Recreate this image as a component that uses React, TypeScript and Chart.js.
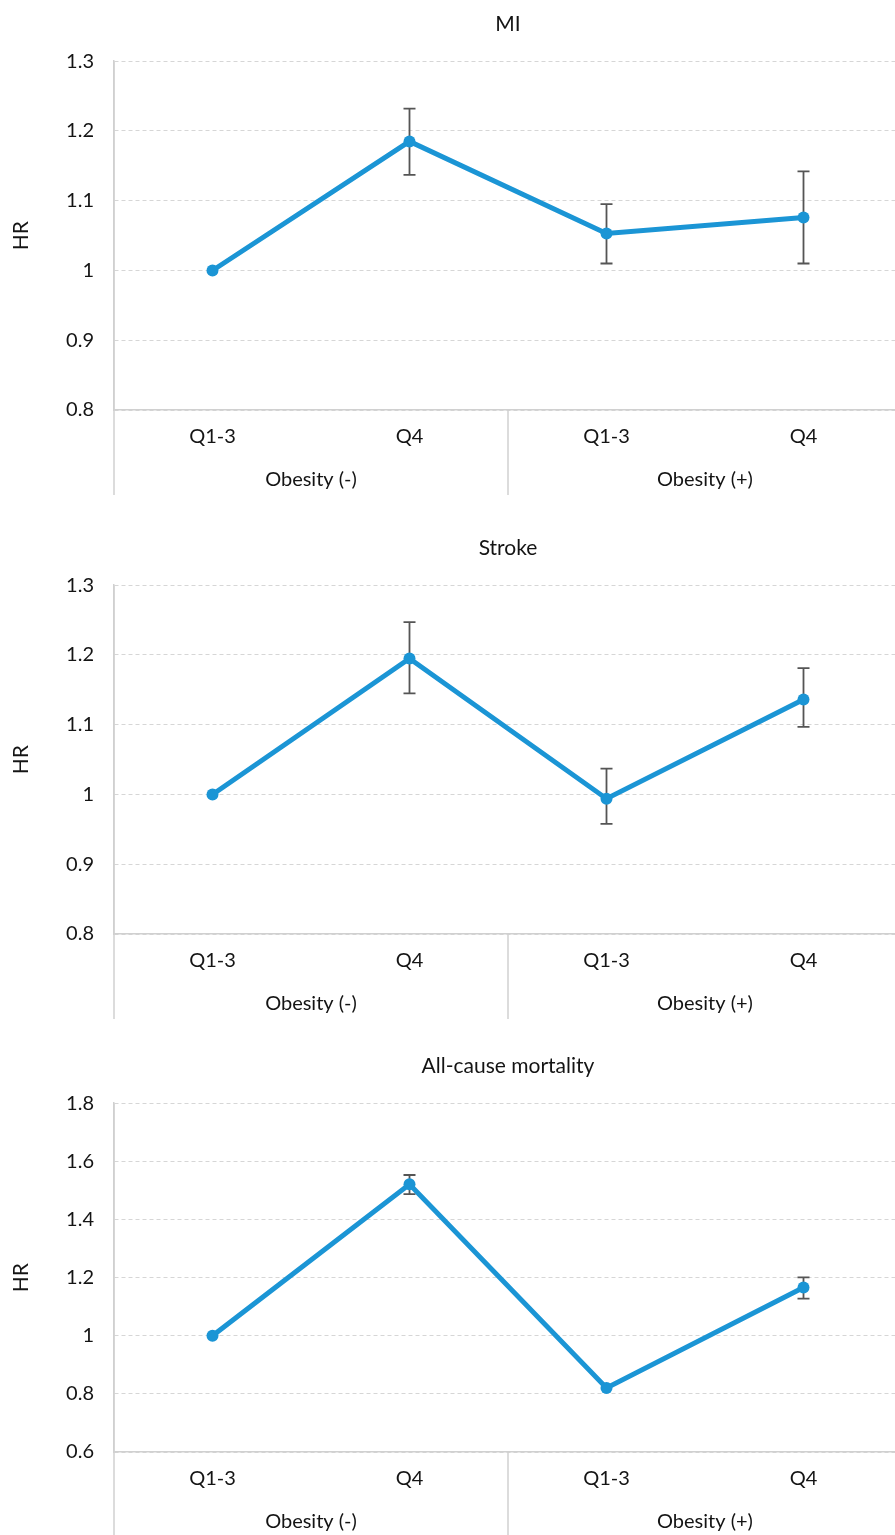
import React, { useEffect, useRef } from 'react';
import { Chart, registerables } from 'chart.js';

Chart.register(...registerables);

// ---------- data ----------
const categories = ['Q1-3', 'Q4', 'Q1-3', 'Q4'];
const groups = ['Obesity (-)', 'Obesity (+)'];

const miHR = [1, 1.185, 1.053, 1.076];
const miLow = [null, 1.137, 1.01, 1.01];
const miHigh = [null, 1.232, 1.095, 1.142];
const miTicks = [0.8, 0.9, 1, 1.1, 1.2, 1.3];

const strokeHR = [1, 1.195, 0.994, 1.136];
const strokeLow = [null, 1.145, 0.958, 1.097];
const strokeHigh = [null, 1.247, 1.037, 1.181];
const strokeTicks = [0.8, 0.9, 1, 1.1, 1.2, 1.3];

const mortHR = [1, 1.521, 0.82, 1.166];
const mortLow = [null, 1.487, null, 1.128];
const mortHigh = [null, 1.553, null, 1.201];
const mortTicks = [0.6, 0.8, 1, 1.2, 1.4, 1.6, 1.8];

const titles = ['MI', 'Stroke', 'All-cause mortality'];
const yTitle = 'HR';

// ---------- style ----------
const FONT = 'Lato';
const TEXT = '#141414';
const BLUE = '#1b95d5';
const GRID = '#d6d6d6';
const AXIS = '#d0d0d0';
const CANVAS_W = 908;
const CANVAS_H = 500;
const PANEL_TOPS = [0, 524, 1042];

const errorBars = {
  id: 'errorBars',
  beforeDatasetsDraw(chart: any) {
    const { ctx, scales } = chart;
    const ds: any = chart.data.datasets[0];
    const low: (number | null)[] = ds.errLow || [];
    const high: (number | null)[] = ds.errHigh || [];
    ctx.save();
    ctx.strokeStyle = '#555555';
    ctx.lineWidth = 1.8;
    for (let i = 0; i < ds.data.length; i++) {
      const lo = low[i];
      const hi = high[i];
      if (lo == null || hi == null) continue;
      const x = scales.x.getPixelForValue(i);
      const y1 = scales.y.getPixelForValue(lo);
      const y2 = scales.y.getPixelForValue(hi);
      ctx.beginPath();
      ctx.moveTo(x, y1);
      ctx.lineTo(x, y2);
      ctx.moveTo(x - 6, y1);
      ctx.lineTo(x + 6, y1);
      ctx.moveTo(x - 6, y2);
      ctx.lineTo(x + 6, y2);
      ctx.stroke();
    }
    ctx.restore();
  },
};

const groupLines = {
  id: 'groupLines',
  afterDraw(chart: any) {
    const { ctx, chartArea, scales } = chart;
    const x2 = scales.x2;
    const bottom = x2.bottom - 5;
    const mid = (x2.getPixelForValue(0) + x2.getPixelForValue(1)) / 2;
    const xs = [chartArea.left, mid, chartArea.right];
    ctx.save();
    ctx.strokeStyle = AXIS;
    ctx.lineWidth = 1.5;
    xs.forEach((x: number, i: number) => {
      ctx.beginPath();
      ctx.moveTo(x, i === 0 ? chartArea.top : chartArea.bottom);
      ctx.lineTo(x, bottom);
      ctx.stroke();
    });
    ctx.restore();
  },
};

type PanelProps = {
  title: string;
  hr: number[];
  low: (number | null)[];
  high: (number | null)[];
  ticks: number[];
  top: number;
};

function Panel({ title, hr, low, high, ticks, top }: PanelProps) {
  const ref = useRef<HTMLCanvasElement | null>(null);
  useEffect(() => {
    if (!ref.current) return;
    const font = { family: FONT, size: 20, weight: 'normal' as const };
    const chart = new Chart(ref.current, {
      type: 'line',
      data: {
        labels: categories,
        datasets: [
          {
            data: hr,
            errLow: low,
            errHigh: high,
            borderColor: BLUE,
            backgroundColor: BLUE,
            borderWidth: 5,
            pointRadius: 6,
            pointBorderWidth: 0,
            pointBackgroundColor: BLUE,
            tension: 0,
          } as any,
        ],
      },
      options: {
        responsive: false,
        animation: false,
        events: [],
        layout: { padding: 0 },
        plugins: {
          legend: { display: false },
          tooltip: { enabled: false },
          title: {
            display: true,
            text: title,
            fullSize: false,
            color: TEXT,
            font: { family: FONT, size: 21, weight: 'normal' },
            padding: { top: 12, bottom: 24 },
          },
        },
        scales: {
          x: {
            type: 'category',
            offset: true,
            weight: 0,
            grid: { display: false, drawTicks: false },
            border: { display: true, color: AXIS, width: 1.5 },
            ticks: { color: TEXT, font, padding: 15, maxRotation: 0 },
            afterFit(s: any) {
              s.height = 39;
            },
          },
          x2: {
            type: 'category',
            position: 'bottom',
            labels: groups,
            offset: true,
            weight: 1,
            grid: { display: false, drawTicks: false },
            border: { display: false },
            ticks: { color: TEXT, font, padding: 19, maxRotation: 0 },
            afterFit(s: any) {
              s.height = 51;
            },
          },
          y: {
            min: ticks[0],
            max: ticks[ticks.length - 1],
            afterBuildTicks(s: any) {
              s.ticks = ticks.map((v) => ({ value: v }));
            },
            grid: { color: GRID, lineWidth: 1, drawTicks: false },
            border: { display: true, color: AXIS, width: 1.5, dash: [4, 3] },
            ticks: {
              color: TEXT,
              font,
              padding: 20,
              callback: (v: any) => String(Number(Number(v).toFixed(2))),
            },
            title: {
              display: true,
              text: yTitle,
              color: TEXT,
              font: { family: FONT, size: 21, weight: 'normal' },
              padding: { top: 9, bottom: 0 },
            },
            afterFit(s: any) {
              s.width = 114;
            },
          },
        },
      } as any,
      plugins: [errorBars, groupLines],
    });
    return () => chart.destroy();
  }, [title, hr, low, high, ticks]);

  return (
    <div style={{ position: 'absolute', left: 0, top, width: CANVAS_W, height: CANVAS_H }}>
      <canvas ref={ref} width={CANVAS_W} height={CANVAS_H} style={{ display: 'block' }} />
    </div>
  );
}

export default function App() {
  return (
    <div
      style={{
        position: 'absolute',
        left: 0,
        top: 0,
        width: 895,
        height: 1535,
        overflow: 'hidden',
        background: '#ffffff',
      }}
    >
      <Panel title={titles[0]} hr={miHR} low={miLow} high={miHigh} ticks={miTicks} top={PANEL_TOPS[0]} />
      <Panel title={titles[1]} hr={strokeHR} low={strokeLow} high={strokeHigh} ticks={strokeTicks} top={PANEL_TOPS[1]} />
      <Panel title={titles[2]} hr={mortHR} low={mortLow} high={mortHigh} ticks={mortTicks} top={PANEL_TOPS[2]} />
    </div>
  );
}
